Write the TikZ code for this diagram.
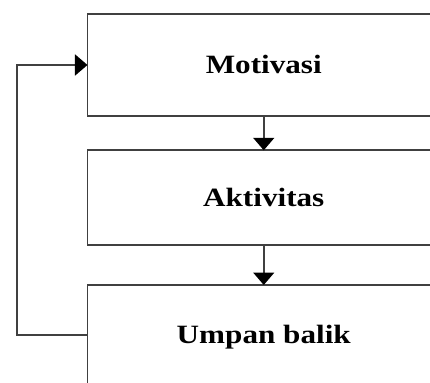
\documentclass[tikz,border=0pt]{standalone}
\usepackage{fontspec}
\setmainfont{Liberation Serif}
\usetikzlibrary{arrows.meta}
\tikzset{
  boxn/.style={draw=black!75, line width=1.7bp, rectangle, outer sep=0pt, inner sep=0pt,
    text height=17.5bp, text depth=0pt,
    font=\fontsize{26.5}{30}\selectfont\bfseries},
  conn/.style={draw=black!75, line width=1.7bp, -{Triangle[length=12.5bp,width=21bp,color=black]}},
}
\newcommand{\wtxt}[1]{\scalebox{1.18}[1]{#1}}
\begin{document}
\begin{tikzpicture}[x=1bp,y=-1bp]
  \useasboundingbox (0,0) rectangle (430,383);
  \clip (0,0) rectangle (430,383);
  \node[boxn, minimum width=352.5bp, minimum height=101.4bp] (m) at (263.75,65) {\wtxt{Motivasi}};
  \node[boxn, minimum width=352.5bp, minimum height=94.4bp] (a) at (263.75,197.5) {\wtxt{Aktivitas}};
  \node[boxn, minimum width=352.5bp, minimum height=100bp] (u) at (263.75,335) {\wtxt{Umpan balik}};
  \draw[conn] (m.south) -- (a.north);
  \draw[conn] (a.south) -- (u.north);
  \coordinate (fb) at (16.7,335);
  \draw[conn] (u.west) -- (fb) |- (m.west);
\end{tikzpicture}
\end{document}
